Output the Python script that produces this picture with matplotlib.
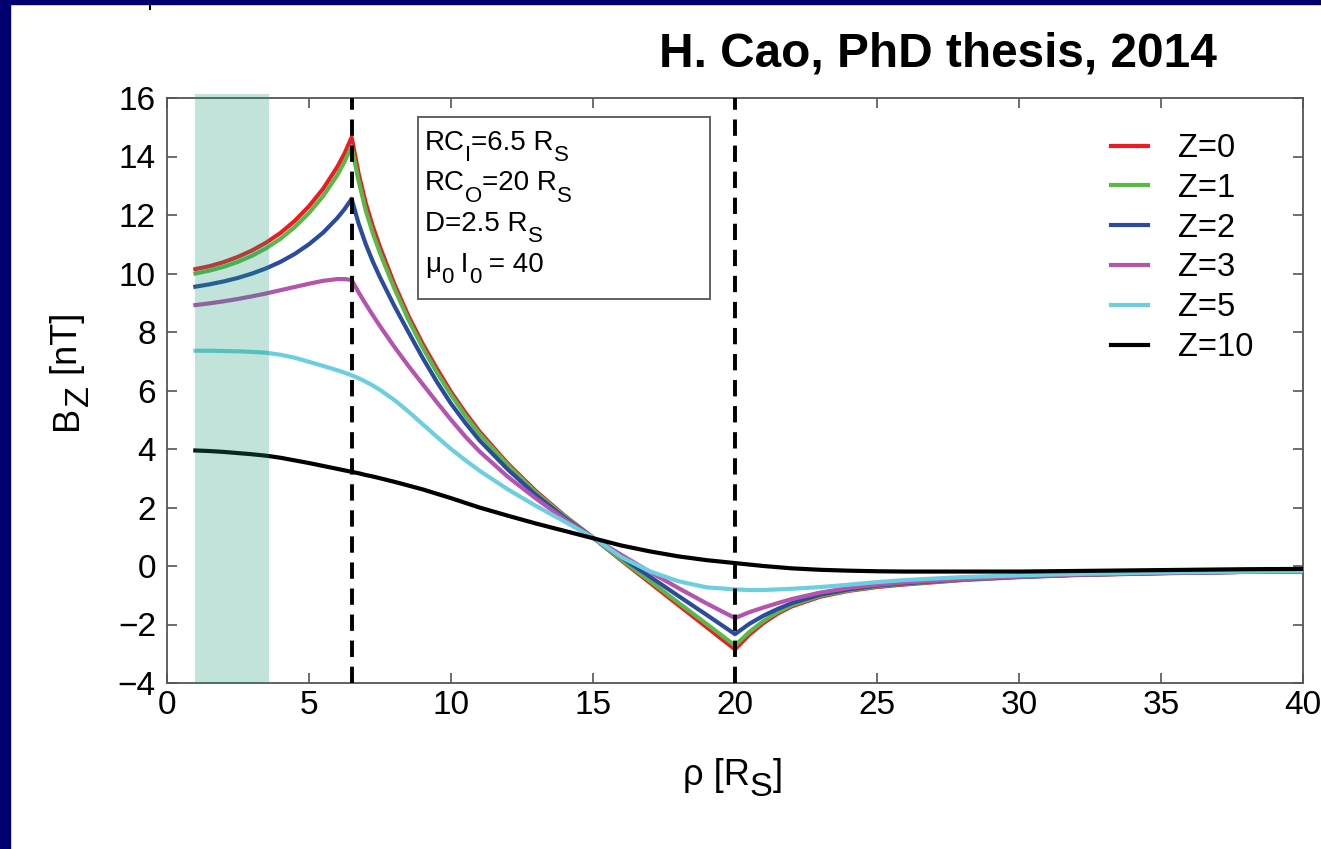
import numpy as np
import matplotlib.pyplot as plt
from matplotlib.patches import Rectangle
from matplotlib.lines import Line2D
from matplotlib.font_manager import FontProperties

plt.rcParams['font.family'] = ['Liberation Sans', 'DejaVu Sans']

# Data --------------------------------------------------------------
rho = [1, 1.5, 2, 2.5, 3, 3.5, 4, 4.5, 5, 5.5, 6, 6.25, 6.5,
       6.75, 7, 7.25, 7.5, 8, 8.5, 9, 9.5, 10, 10.5, 11,
       12, 13, 14, 15, 16, 17, 18, 19, 20,
       20.5, 21, 21.5, 22, 23, 24, 25, 26,
       28, 30, 32, 35, 38, 40]

bz_z0 = [10.15, 10.25, 10.39, 10.57, 10.79, 11.06, 11.39, 11.8, 12.3, 12.9, 13.65, 14.1, 14.65,
         13.4, 12.4, 11.6, 10.9, 9.65, 8.55, 7.6, 6.75, 5.95, 5.25, 4.6,
         3.5, 2.55, 1.72, 0.97, 0.19, -0.57, -1.33, -2.09, -2.85,
         -2.35, -1.95, -1.63, -1.38, -1.05, -0.85, -0.72, -0.63,
         -0.48, -0.38, -0.31, -0.25, -0.2, -0.18]
bz_z1 = [10.0, 10.1, 10.23, 10.4, 10.61, 10.87, 11.19, 11.59, 12.07, 12.65, 13.37, 13.82, 14.35,
         13.15, 12.15, 11.37, 10.7, 9.5, 8.42, 7.47, 6.62, 5.85, 5.15, 4.52,
         3.45, 2.5, 1.7, 0.97, 0.22, -0.51, -1.25, -1.98, -2.72,
         -2.26, -1.88, -1.58, -1.34, -1.02, -0.83, -0.7, -0.61,
         -0.47, -0.37, -0.3, -0.24, -0.2, -0.18]
bz_z2 = [9.55, 9.63, 9.73, 9.85, 10.0, 10.18, 10.4, 10.67, 11.0, 11.4, 11.9, 12.2, 12.55,
         11.7, 11.0, 10.4, 9.87, 8.9, 8.0, 7.12, 6.3, 5.55, 4.9, 4.3,
         3.3, 2.42, 1.65, 0.97, 0.29, -0.36, -1.02, -1.67, -2.33,
         -1.98, -1.7, -1.47, -1.27, -0.98, -0.8, -0.67, -0.59,
         -0.46, -0.37, -0.3, -0.24, -0.2, -0.18]
bz_z3 = [8.92, 8.98, 9.05, 9.13, 9.22, 9.32, 9.43, 9.54, 9.65, 9.75, 9.81, 9.81, 9.78,
         9.35, 8.95, 8.57, 8.2, 7.5, 6.84, 6.22, 5.6, 5.0, 4.43, 3.92,
         3.05, 2.3, 1.6, 0.97, 0.38, -0.2, -0.75, -1.28, -1.78,
         -1.58, -1.42, -1.27, -1.13, -0.91, -0.75, -0.64, -0.56,
         -0.45, -0.36, -0.3, -0.24, -0.2, -0.18]
bz_z5 = [7.36, 7.36, 7.35, 7.34, 7.32, 7.29, 7.22, 7.12, 6.98, 6.84, 6.69, 6.61, 6.52,
         6.42, 6.3, 6.17, 6.02, 5.68, 5.28, 4.85, 4.42, 4.0, 3.62, 3.26,
         2.62, 2.05, 1.52, 0.97, 0.3, -0.18, -0.52, -0.73, -0.8,
         -0.82, -0.82, -0.8, -0.78, -0.72, -0.64, -0.55, -0.48,
         -0.38, -0.32, -0.27, -0.22, -0.19, -0.17]
bz_z10 = [3.95, 3.93, 3.9, 3.86, 3.82, 3.77, 3.7, 3.61, 3.52, 3.42, 3.32, 3.27, 3.22,
          3.17, 3.11, 3.06, 3.0, 2.88, 2.75, 2.62, 2.47, 2.32, 2.16, 2.0,
          1.72, 1.45, 1.2, 0.95, 0.7, 0.5, 0.33, 0.2, 0.1,
          0.05, 0.0, -0.04, -0.08, -0.13, -0.16, -0.18, -0.19,
          -0.19, -0.19, -0.17, -0.14, -0.11, -0.1]

series = [bz_z0, bz_z1, bz_z2, bz_z3, bz_z5, bz_z10]
labels = ['Z=0', 'Z=1', 'Z=2', 'Z=3', 'Z=5', 'Z=10']
colors = ['#ed1c24', '#5ab946', '#2b4ba0', '#b553ad', '#6ccfe0', '#000000']

rc_inner = 6.5
rc_outer = 20
shade = (1.0, 3.6)

# Figure ------------------------------------------------------------
W, H = 1321, 849
fig = plt.figure(figsize=(W / 100, H / 100), dpi=100)
renderer = fig.canvas.get_renderer()

def fx(px):
    return px / W

def fy(py):
    return 1 - py / H

def adv(s, size):
    # advance width of a string in pixels, spaces included
    fp = FontProperties(family='Liberation Sans', size=size)
    w1 = renderer.get_text_width_height_descent('|' + s + '|', fp, ismath=False)[0]
    w0 = renderer.get_text_width_height_descent('||', fp, ismath=False)[0]
    return w1 - w0

def rich(px, py, pieces, size, sub_scale, sub_drop, rot=0):
    # draw text with big, low subscripts like the original figure
    for s, sub in pieces:
        fs = size * sub_scale if sub else size
        drop = sub_drop * size * 100 / 72 if sub else 0
        x, y = (px, py + drop) if rot == 0 else (px + drop, py)
        fig.text(fx(x), fy(y), s, fontsize=fs, ha='left', va='baseline',
                 rotation=rot, rotation_mode='anchor')
        if rot == 0:
            px += adv(s, fs)
        else:
            py -= adv(s, fs)

# navy slide frame
navy = '#00006e'
fig.patches.append(Rectangle((0, fy(4)), 1, 1 - fy(4), transform=fig.transFigure,
                             color=navy, zorder=0))
fig.patches.append(Rectangle((0, 0), fx(10), 1, transform=fig.transFigure,
                             color=navy, zorder=0))
fig.lines.append(Line2D([fx(150), fx(150)], [fy(4), fy(9)], transform=fig.transFigure,
                        color='k', lw=1.5))

ax = fig.add_axes([fx(167), fy(683), fx(1303) - fx(167), fy(98) - fy(683)])

for y, lab, c in zip(series, labels, colors):
    ax.plot(rho, y, color=c, lw=3, label=lab, zorder=3)

ax.axvspan(shade[0], shade[1], ymin=0, ymax=1.007, color=(0.1, 0.6, 0.45),
           alpha=0.27, lw=0, zorder=4, clip_on=False)
for xv in (rc_inner, rc_outer):
    ax.axvline(xv, color='k', lw=2.8, ls=(0, (4.2, 2.5)), zorder=5)

ax.set_xlim(0, 40)
ax.set_ylim(-4, 16)
ax.set_xticks(np.arange(0, 41, 5))
ax.set_yticks(np.arange(-4, 17, 2))
ax.tick_params(direction='in', length=7, width=1.2, color='#555555',
               top=True, right=True, labelsize=24)
ax.tick_params(axis='x', pad=5)
ax.tick_params(axis='y', pad=8)
for s in ax.spines.values():
    s.set_color('#555555')
    s.set_linewidth(1.3)

leg = ax.legend(loc='upper left', bbox_to_anchor=(fx(1111), fy(133)),
                bbox_transform=fig.transFigure, frameon=False, fontsize=23.5,
                borderpad=0, borderaxespad=0, handlelength=1.13,
                handletextpad=0.92, labelspacing=0.27)

# parameter box
fig.patches.append(Rectangle((fx(418), fy(299)), fx(710) - fx(418), fy(117) - fy(299),
                             transform=fig.transFigure, fill=False,
                             edgecolor='#555555', lw=1.3, zorder=6))
box_lines = [[('RC', 0), ('I', 1), ('=6.5 R', 0), ('S', 1)],
             [('RC', 0), ('O', 1), ('=20 R', 0), ('S', 1)],
             [('D=2.5 R', 0), ('S', 1)],
             [('μ', 0), ('0', 1), (' I', 0), ('0', 1), (' = 40', 0)]]
for i, pieces in enumerate(box_lines):
    rich(425, 150 + 40.5 * i, pieces, 20, 0.8, 0.4)

rich(683, 785, [('ρ [R', 0), ('S', 1), (']', 0)], 26, 0.95, 0.3)
rich(77, 430, [('B', 0), ('Z', 1), (' [nT]', 0)], 26, 0.95, 0.3, rot=90)

fig.text(fx(1217), fy(67), 'H. Cao, PhD thesis, 2014', fontsize=34.4,
         fontweight='bold', ha='right', va='baseline')

fig.savefig('out.png', dpi=100)
